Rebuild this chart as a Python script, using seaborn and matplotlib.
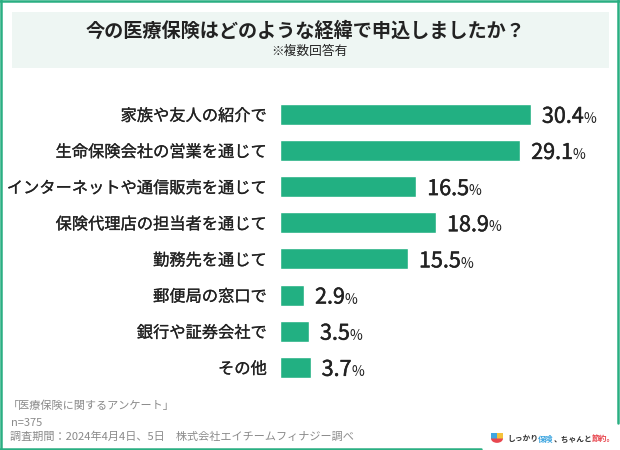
import matplotlib
matplotlib.use("Agg")
import matplotlib.pyplot as plt
import matplotlib.patches as mpatches
import matplotlib.patheffects as pe
from matplotlib.lines import Line2D
import seaborn as sns
import pandas as pd

# ---- data ----
labels = [
    "家族や友人の紹介で",
    "生命保険会社の営業を通じて",
    "インターネットや通信販売を通じて",
    "保険代理店の担当者を通じて",
    "勤務先を通じて",
    "郵便局の窓口で",
    "銀行や証券会社で",
    "その他",
]
values = [30.4, 29.1, 16.5, 18.9, 15.5, 2.9, 3.5, 3.7]

title = "今の医療保険はどのような経緯で申込しましたか？"
subtitle = "※複数回答有"
notes = [
    "「医療保険に関するアンケート」",
    "n=375",
    "調査期間：2024年4月4日、5日　株式会社エイチームフィナジー調べ",
]
logo_parts = ["しっかり", "保険", "、ちゃんと", "節約。"]

# ---- styles ----
GREEN = "#22b082"
FRAME = "#2aaf82"
TXT = "#222222"
GRAY = "#8a8a8a"
BOX = "#eef6f3"
LOGO_COLORS = ["#333333", "#3fa6e0", "#333333", "#e8474f"]

sns.set_style("white")
plt.rcParams["font.family"] = ["Noto Sans CJK JP", "DejaVu Sans"]

W, H = 620, 450


def fx(x):
    return x / W


def fy(y):
    return 1 - y / H


# slightly heavier than regular (reference uses a medium weight)
medium = [pe.withStroke(linewidth=0.35, foreground=TXT)]

fig = plt.figure(figsize=(W / 100, H / 100), dpi=100)

# title box
fig.add_artist(mpatches.Rectangle((fx(12), fy(68)), 597 / W, 56 / H,
                                  transform=fig.transFigure,
                                  facecolor=BOX, edgecolor="none"))
fig.text(fx(306), fy(31), title, ha="center", va="center",
         fontsize=13.8, fontweight="bold", color=TXT)
fig.text(fx(309.5), fy(51.5), subtitle, ha="center", va="center",
         fontsize=9.2, color=TXT)

# bars
top, bottom = 96.2, 385.4
ax = fig.add_axes([fx(280), fy(bottom), 330 / W, (bottom - top) / H])
df = pd.DataFrame({"経緯": labels, "割合": values})
sns.barplot(data=df, x="割合", y="経緯", orient="h", color=GREEN,
            saturation=1, width=0.58, ax=ax)
ax.set_xlim(0, 40)
ax.set_ylim(len(labels) - 0.5, -0.5)
ax.set_xlabel("")
ax.set_ylabel("")
ax.set_xticks([])
for s in ax.spines.values():
    s.set_visible(False)
ax.tick_params(axis="y", length=0, pad=9.5, labelsize=11.7, labelcolor=TXT)
for t in ax.get_yticklabels():
    t.set_path_effects([pe.withStroke(linewidth=0.18, foreground=TXT)])
ax.patch.set_alpha(0)

# value labels: big number + small %
for i, v in enumerate(values):
    num = ax.annotate(f"{v:.1f}", xy=(v, i), xytext=(8, 0),
                      textcoords="offset points", ha="left",
                      va="center_baseline", fontsize=15.5,
                      fontweight="normal", color=TXT, path_effects=medium)
    ax.annotate("%", xy=(1, 0.08), xycoords=num, xytext=(-0.3, 0),
                textcoords="offset points", ha="left", va="bottom",
                fontsize=10, color=TXT)

# footer notes
fig.text(fx(8), fy(406), notes[0], va="center", fontsize=8, color=GRAY)
fig.text(fx(11), fy(422.5), notes[1], va="center", fontsize=8, color=GRAY)
fig.text(fx(10), fy(437), notes[2], va="center", fontsize=8, color=GRAY)

# logo icon
fig.add_artist(mpatches.Rectangle((fx(491), fy(439)), 6 / W, 6 / H,
                                  transform=fig.transFigure,
                                  facecolor="#3fa6e0", edgecolor="none"))
fig.add_artist(mpatches.Rectangle((fx(497), fy(439)), 6 / W, 6 / H,
                                  transform=fig.transFigure,
                                  facecolor="#f5c23a", edgecolor="none"))
fig.add_artist(mpatches.Wedge((fx(497), fy(438.5)), 6 / W, 180, 360,
                              transform=fig.transFigure,
                              facecolor="#e8474f", edgecolor="none"))

# logo text, chained pieces in different colours
prev = fig.text(fx(507), fy(439), logo_parts[0], va="center", fontsize=5.6,
                fontweight="bold", color=LOGO_COLORS[0])
for part, col in zip(logo_parts[1:], LOGO_COLORS[1:]):
    prev = ax.annotate(part, xy=(1, 0), xycoords=prev, ha="left",
                       va="bottom", fontsize=5.6, fontweight="bold",
                       color=col, annotation_clip=False)

# green frame (open at bottom-right corner)
lw = 1.8
fig.add_artist(Line2D([fx(1), fx(1)], [fy(0), fy(450)], color=FRAME, lw=lw))
fig.add_artist(Line2D([fx(0), fx(620)], [fy(1), fy(1)], color=FRAME, lw=lw))
fig.add_artist(Line2D([fx(618), fx(618)], [fy(0), fy(423)], color=FRAME, lw=lw))
fig.add_artist(Line2D([fx(0), fx(481)], [fy(448.5), fy(448.5)], color=FRAME, lw=lw))

fig.savefig("out.png", dpi=100)
